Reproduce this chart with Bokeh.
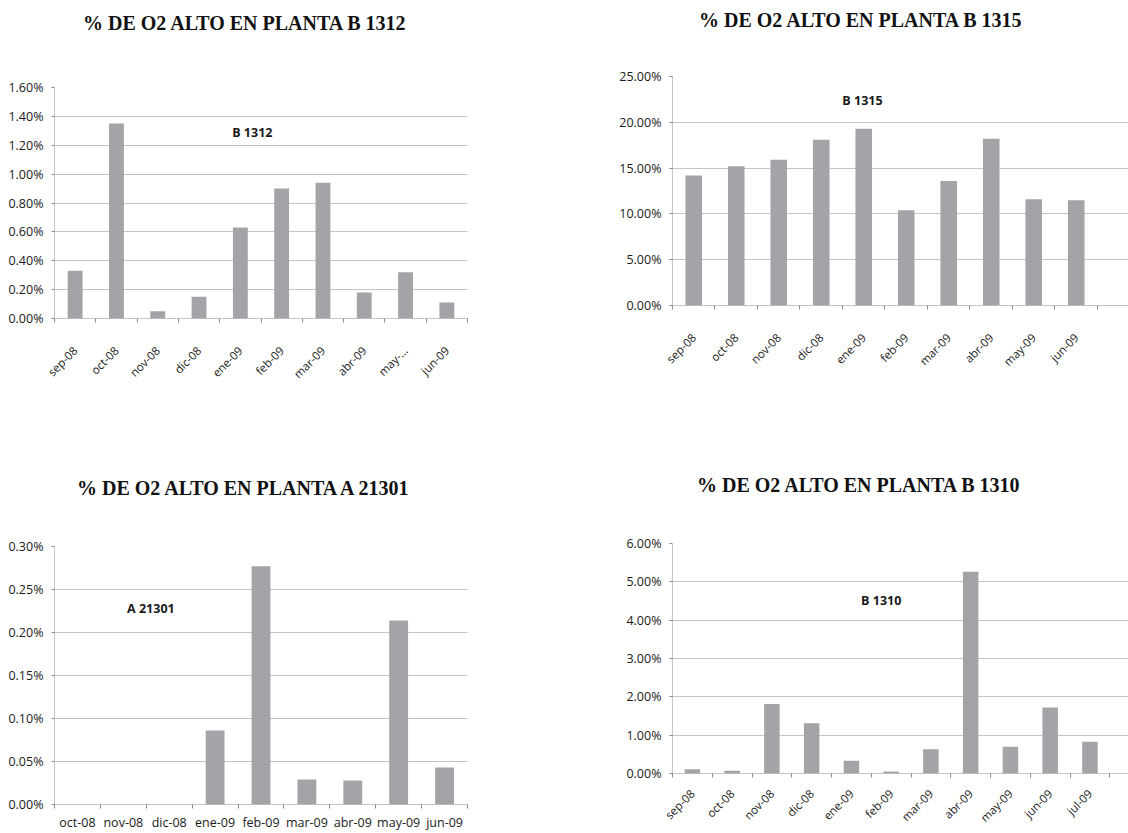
import numpy as np
from bokeh.plotting import figure
from bokeh.models import FixedTicker, Range1d, Label, PrintfTickFormatter, Div
from bokeh.layouts import row, column
from bokeh.embed import file_html
from bokeh.resources import INLINE

# ---------------- data ----------------
b1312_months = ["sep-08", "oct-08", "nov-08", "dic-08", "ene-09", "feb-09", "mar-09", "abr-09", "may-...", "jun-09"]
b1312_values = [0.33, 1.35, 0.05, 0.15, 0.63, 0.90, 0.94, 0.18, 0.32, 0.11]
b1312_yticks = [0.0, 0.2, 0.4, 0.6, 0.8, 1.0, 1.2, 1.4, 1.6]

b1315_months = ["sep-08", "oct-08", "nov-08", "dic-08", "ene-09", "feb-09", "mar-09", "abr-09", "may-09", "jun-09"]
b1315_values = [14.2, 15.2, 15.9, 18.1, 19.3, 10.4, 13.6, 18.2, 11.6, 11.5]
b1315_yticks = [0.0, 5.0, 10.0, 15.0, 20.0, 25.0]

a21301_months = ["oct-08", "nov-08", "dic-08", "ene-09", "feb-09", "mar-09", "abr-09", "may-09", "jun-09"]
a21301_values = [0.0, 0.0, 0.0, 0.086, 0.277, 0.029, 0.028, 0.214, 0.043]
a21301_yticks = [0.0, 0.05, 0.10, 0.15, 0.20, 0.25, 0.30]

b1310_months = ["sep-08", "oct-08", "nov-08", "dic-08", "ene-09", "feb-09", "mar-09", "abr-09", "may-09", "jun-09", "jul-09"]
b1310_values = [0.11, 0.07, 1.81, 1.31, 0.33, 0.05, 0.63, 5.26, 0.70, 1.72, 0.83]
b1310_yticks = [0.0, 1.0, 2.0, 3.0, 4.0, 5.0, 6.0]

# ---------------- styling ----------------
BAR_FILL = "#a3a4a7"
GRID = "#8a8a8a"
TXT = "#1a1a1a"
LABEL_FONT = "Open Sans"


def title_div(text, w, h, left, top):
    html = ('<div style="position:absolute; left:%dpx; top:%dpx; white-space:nowrap; '
            'font-family:\'Liberation Serif\', serif; font-weight:bold; font-size:20px; '
            'line-height:24px; color:#111111;">%s</div>' % (left, top, text))
    return Div(text=html, width=w, height=h, margin=0,
               styles={"position": "relative", "overflow": "visible"})


def make_panel(months, values, yticks, w, h, borders, xend_extra,
               bar_w, rotate, xstandoff, inner, inner_xy):
    n = len(months)
    xs = list(range(n))
    left, right, top, bottom = borders
    p = figure(width=w, height=h, output_backend="svg", toolbar_location=None,
               x_range=Range1d(-0.5, n - 0.5 + xend_extra),
               y_range=Range1d(yticks[0], yticks[-1]),
               min_border_left=left, min_border_right=right,
               min_border_top=top, min_border_bottom=bottom)
    p.outline_line_color = None
    p.background_fill_color = "white"
    p.border_fill_color = "white"

    p.vbar(x=xs, top=values, width=bar_w, fill_color=BAR_FILL, line_color=None)

    # x axis
    xa = p.xaxis[0]
    xa.ticker = FixedTicker(ticks=xs, minor_ticks=[i - 0.5 for i in range(n + 1)])
    xa.major_label_overrides = {i: m for i, m in enumerate(months)}
    xa.major_tick_out = 0
    xa.major_tick_in = 0
    xa.minor_tick_out = 4
    xa.minor_tick_in = 0
    xa.minor_tick_line_color = GRID
    xa.axis_line_color = GRID
    xa.axis_line_dash = "1 1"
    xa.major_label_text_font = LABEL_FONT
    xa.major_label_text_color = TXT
    xa.major_label_standoff = xstandoff
    if rotate:
        xa.major_label_orientation = np.pi / 4
        xa.major_label_text_font_size = "11.5px"
    else:
        xa.major_label_text_font_size = "12.5px"

    # y axis
    ya = p.yaxis[0]
    ya.ticker = FixedTicker(ticks=yticks)
    ya.formatter = PrintfTickFormatter(format="%.2f%%")
    ya.axis_line_color = GRID
    ya.axis_line_dash = "1 1"
    ya.major_tick_out = 3
    ya.major_tick_in = 0
    ya.major_tick_line_color = GRID
    ya.minor_tick_line_color = None
    ya.major_label_text_font = LABEL_FONT
    ya.major_label_text_font_size = "12.5px"
    ya.major_label_text_color = TXT
    ya.major_label_standoff = 8

    p.xgrid.grid_line_color = None
    p.ygrid.grid_line_color = GRID
    p.ygrid.grid_line_dash = "1 1"
    p.ygrid.grid_line_width = 1

    p.add_layout(Label(x=inner_xy[0], y=inner_xy[1], text=inner,
                       text_font=LABEL_FONT, text_font_style="bold",
                       text_font_size="12.5px", text_color=TXT,
                       text_align="center", text_baseline="middle"))
    return p


t1 = title_div("% DE O2 ALTO EN PLANTA B 1312", 564, 50, 83, 11)
p1 = make_panel(b1312_months, b1312_values, b1312_yticks,
                564, 370, (54, 97, 37, 102), 0.0, 0.36, True, 26, "B 1312", (4.29, 1.29))
t2 = title_div("% DE O2 ALTO EN PLANTA B 1315", 564, 50, 135, 8)
p2 = make_panel(b1315_months, b1315_values, b1315_yticks,
                564, 370, (106, 0, 26, 115), 0.73, 0.39, True, 26, "B 1315", (3.97, 22.4))
t3 = title_div("% DE O2 ALTO EN PLANTA A 21301", 564, 100, 77, 56)
p3 = make_panel(a21301_months, a21301_values, a21301_yticks,
                564, 313, (53, 87, 26, 29), 0.0, 0.41, False, 5, "A 21301", (1.6, 0.228))
t4 = title_div("% DE O2 ALTO EN PLANTA B 1310", 564, 100, 133, 53)
p4 = make_panel(b1310_months, b1310_values, b1310_yticks,
                564, 313, (108, 0, 23, 60), 0.47, 0.39, True, 14, "B 1310", (4.75, 4.51))

layout = row(column(t1, p1, t3, p3, spacing=0), column(t2, p2, t4, p4, spacing=0), spacing=0)

open("out.html", "w").write(file_html(layout, INLINE))
